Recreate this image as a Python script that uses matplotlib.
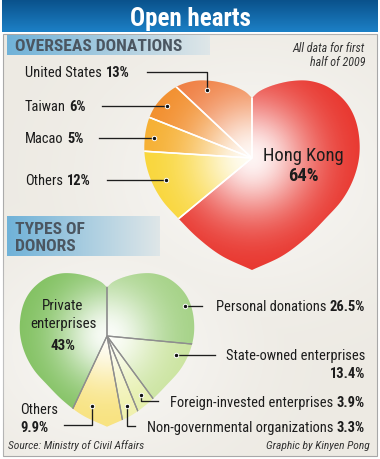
"""
Open hearts: overseas donations and types of donors, first half of 2009.
Two pie charts clipped to heart shapes, with leader-line labels.
"""

import numpy as np
import matplotlib
matplotlib.use("Agg")
import matplotlib.pyplot as plt
from matplotlib import font_manager
from matplotlib.patches import Polygon, Rectangle

W, H = 380, 459
DPI = 100

# ---- data ----
overseas_labels = ["United States", "Taiwan", "Macao", "Others", "Hong Kong"]
overseas_share = [13, 6, 5, 12, 64]
overseas_colors = ["#EF7B3C", "#F28D2A", "#F6AE2E", "#F9D535", "#E8332B"]

donor_labels = ["Personal donations", "State-owned enterprises",
                "Foreign-invested enterprises", "Non-governmental organizations",
                "Others", "Private enterprises"]
donor_share = [26.5, 13.4, 3.9, 3.3, 9.9, 43]
donor_colors = ["#A3D184", "#C9E39C", "#E3EEA6", "#EFF0AA", "#F8E27C", "#7FC05E"]

# right half of the heart outline (cleft -> tip), pixel units of the big heart
HEART = [(0, 60), (8, 67), (22, 73), (40, 77), (58, 77), (76, 71), (92, 58),
         (102, 42), (107, 22), (107, 0), (101, -22), (90, -42), (74, -60),
         (54, -80), (30, -98), (0, -112)]

BG = "#EDEAE3"
TEXT = "#1C1C1C"
SECTION = "#4B5661"

names = {f.name for f in font_manager.fontManager.ttflist}
FONT, SQUEEZE = "Liberation Sans", 0.82
for cand in ["Liberation Sans Narrow", "Roboto Condensed", "Open Sans Condensed"]:
    if cand in names:
        FONT, SQUEEZE = cand, 1.0
        break


def pt(px):
    return px * 72 / DPI


def pct(v):
    return f"{v:g}%"


def catmull(pts, n=24):
    pts = np.asarray(pts, float)
    m = np.zeros_like(pts)
    m[1:-1] = (pts[2:] - pts[:-2]) / 2
    m[0] = pts[1] - pts[0]
    m[-1] = pts[-1] - pts[-2]
    t = np.linspace(0, 1, n, endpoint=False)[:, None]
    h00 = 2 * t**3 - 3 * t**2 + 1
    h10 = t**3 - 2 * t**2 + t
    h01 = -2 * t**3 + 3 * t**2
    h11 = t**3 - t**2
    out = [h00 * pts[i] + h10 * m[i] + h01 * pts[i + 1] + h11 * m[i + 1]
           for i in range(len(pts) - 1)]
    out.append(pts[-1:])
    return np.vstack(out)


def heart_xy(scale):
    right = catmull(np.array(HEART) * scale)
    left = right[::-1].copy()
    left[:, 0] *= -1
    return np.vstack([right, left[1:]])


fig = plt.figure(figsize=(W / DPI, H / DPI), dpi=DPI)

# ---- background ----
bg = fig.add_axes([0, 0, 1, 1])
bg.set_xlim(0, W)
bg.set_ylim(H, 0)
bg.axis("off")
bg.add_patch(Rectangle((0, 0), W, H, facecolor="white", edgecolor="none"))
content = Rectangle((3, 34), 374, 422, facecolor=BG, edgecolor="#A8A8A8", lw=0.8)
bg.add_patch(content)

# soft light glow behind the hearts
gx, gy = np.meshgrid(np.linspace(0, W, 190), np.linspace(0, H, 230))
glow = np.zeros_like(gx)
for (cx, cy, rx, ry) in [(252, 175, 150, 120), (110, 350, 130, 105)]:
    glow = np.maximum(glow, np.exp(-(((gx - cx) / rx) ** 2 + ((gy - cy) / ry) ** 2)))
rgba = np.ones(gx.shape + (4,))
rgba[..., 3] = 0.6 * glow
im = bg.imshow(rgba, extent=(0, W, H, 0), origin="upper", interpolation="bilinear", zorder=1)
im.set_clip_path(content)

# title bar
top = np.array([10, 82, 140]) / 255
bot = np.array([28, 128, 198]) / 255
grad = np.linspace(0, 1, 64)[:, None, None] * (bot - top) + top
bg.imshow(np.repeat(grad, 2, axis=1), extent=(2, 378, 32, 0), origin="upper",
          interpolation="bilinear", zorder=2)

# section label boxes
left_c = np.array([112, 178, 216]) / 255
right_c = np.array([222, 230, 232]) / 255
hgrad = np.linspace(0, 1, 64)[None, :, None] * (right_c - left_c) + left_c
bg.imshow(hgrad, extent=(7, 210, 55, 35), origin="upper", interpolation="bilinear", zorder=2)
bg.imshow(hgrad, extent=(7, 160, 256, 216), origin="upper", interpolation="bilinear", zorder=2)
bg.set_aspect("auto")
bg.set_xlim(0, W)
bg.set_ylim(H, 0)


# ---- hearts ----
def heart_pie(cx, cy, scale, values, colors, counterclock, edge, edge_lw, sigma):
    xr = (-125 * scale, 125 * scale)
    yr = (-125 * scale, 95 * scale)
    ax = fig.add_axes([(cx + xr[0]) / W, (H - (cy - yr[0])) / H,
                       (xr[1] - xr[0]) / W, (yr[1] - yr[0]) / H])
    heart = Polygon(heart_xy(scale), closed=True, facecolor="none", edgecolor="none")
    ax.add_patch(heart)

    wedges, _ = ax.pie(values, colors=colors, startangle=90, counterclock=counterclock,
                       radius=220 * scale, wedgeprops=dict(linewidth=0))
    for w in wedges:
        w.set_clip_on(True)
        w.set_clip_path(heart)
        w.set_zorder(1)

    xs = np.linspace(xr[0], xr[1], 250)
    ys = np.linspace(yr[0], yr[1], 220)
    X, Y = np.meshgrid(xs, ys)
    a = np.ones(X.shape + (4,))
    a[..., 3] = 0.95 * np.exp(-(np.hypot(X, Y) / sigma) ** 2)
    im = ax.imshow(a, extent=(xr[0], xr[1], yr[0], yr[1]), origin="lower",
                   interpolation="bilinear", zorder=2)
    im.set_clip_path(heart)

    lines, _ = ax.pie(values, startangle=90, counterclock=counterclock, radius=220 * scale,
                      wedgeprops=dict(facecolor="none", edgecolor=edge, linewidth=edge_lw))
    for w in lines:
        w.set_clip_on(True)
        w.set_clip_path(heart)
        w.set_zorder(3)

    ax.set_aspect("auto")
    ax.set_xlim(*xr)
    ax.set_ylim(*yr)
    ax.axis("off")
    return ax


heart_pie(252, 158, 1.0, overseas_share, overseas_colors, True, "white", 1.1, 60)
heart_pie(107, 336, 0.81, donor_share, donor_colors, False, "#8E8E8E", 0.9, 50)

# ---- overlay: text and leader lines ----
fg = fig.add_axes([0, 0, 1, 1])
fg.set_xlim(0, W)
fg.set_ylim(H, 0)
fg.axis("off")
renderer = fig.canvas.get_renderer()


def rich(x, y, parts, size, ha="left", color=TEXT, style="normal"):
    fpx = size * SQUEEZE
    arts, widths = [], []
    for s, bold in parts:
        t = fg.text(0, 0, s, fontsize=pt(fpx), fontweight="bold" if bold else "normal",
                    family=FONT, color=color, style=style, ha="left", va="baseline")
        arts.append(t)
        widths.append(t.get_window_extent(renderer).width)
    gap = 0.25 * fpx
    total = sum(widths) + gap * (len(parts) - 1)
    x0 = x if ha == "left" else (x - total if ha == "right" else x - total / 2)
    base = y + 0.36 * fpx
    for t, w in zip(arts, widths):
        t.set_position((x0, base))
        x0 += w + gap


def leader(pts):
    xs, ys = zip(*pts)
    fg.plot(xs, ys, color="#1E1E1E", lw=0.95, solid_joinstyle="round", zorder=3)
    fg.plot(xs[0], ys[0], "o", ms=3.2, mfc="#111111", mec="white", mew=0.7, zorder=4)


# title and section heads
rich(190, 17, [("Open hearts", True)], 25, ha="center", color="white")
rich(15, 45, [("OVERSEAS DONATIONS", True)], 17.5, color=SECTION)
rich(15, 228, [("TYPES OF", True)], 17.5, color=SECTION)
rich(15, 245, [("DONORS", True)], 17.5, color=SECTION)
rich(365, 48, [("All data for first", False)], 12, ha="right", color="#333333", style="italic")
rich(365, 62, [("half of 2009", False)], 12, ha="right", color="#333333", style="italic")

# overseas donations
o_pos = [(25, 72), (25, 106), (25, 138), (25, 180)]
o_lead = [[(207, 90), (207, 72), (147, 72)],
          [(167, 106), (102, 106)],
          [(154, 138), (99, 138)],
          [(166, 180), (107, 180)]]
for (x, y), lab, v, pts in zip(o_pos, overseas_labels[:4], overseas_share[:4], o_lead):
    rich(x, y, [(lab, False), (pct(v), True)], 14.5)
    leader(pts)
rich(303, 154, [(overseas_labels[4], False)], 18.5, ha="center")
rich(303, 174, [(pct(overseas_share[4]), True)], 18.5, ha="center")

# types of donors
rich(365, 306, [(donor_labels[0], False), (pct(donor_share[0]), True)], 14.5, ha="right")
leader([(185, 306), (202, 306)])
rich(365, 355, [(donor_labels[1], False)], 14.5, ha="right")
rich(365, 373, [(pct(donor_share[1]), True)], 14.5, ha="right")
leader([(176, 355), (215, 355)])
rich(365, 402, [(donor_labels[2], False), (pct(donor_share[2]), True)], 14.5, ha="right")
leader([(141, 395), (141, 401), (158, 401)])
rich(365, 427, [(donor_labels[3], False), (pct(donor_share[3]), True)], 14.5, ha="right")
leader([(127, 406), (127, 426), (135, 426)])
rich(20, 409, [(donor_labels[4], False)], 14.5)
rich(20, 427, [(pct(donor_share[4]), True)], 14.5)
leader([(92, 406), (92, 425), (64, 425)])
priv = donor_labels[5].split()
rich(63, 305, [(priv[0], False)], 15, ha="center")
rich(63, 323, [(priv[1], False)], 15, ha="center")
rich(63, 345, [(pct(donor_share[5]), True)], 15, ha="center")

# footer
rich(8, 445, [("Source: Ministry of Civil Affairs", False)], 11.5, color="#333333", style="italic")
rich(370, 445, [("Graphic by Kinyen Pong", False)], 11.5, ha="right", color="#333333", style="italic")

fig.savefig("out.png", dpi=DPI)
